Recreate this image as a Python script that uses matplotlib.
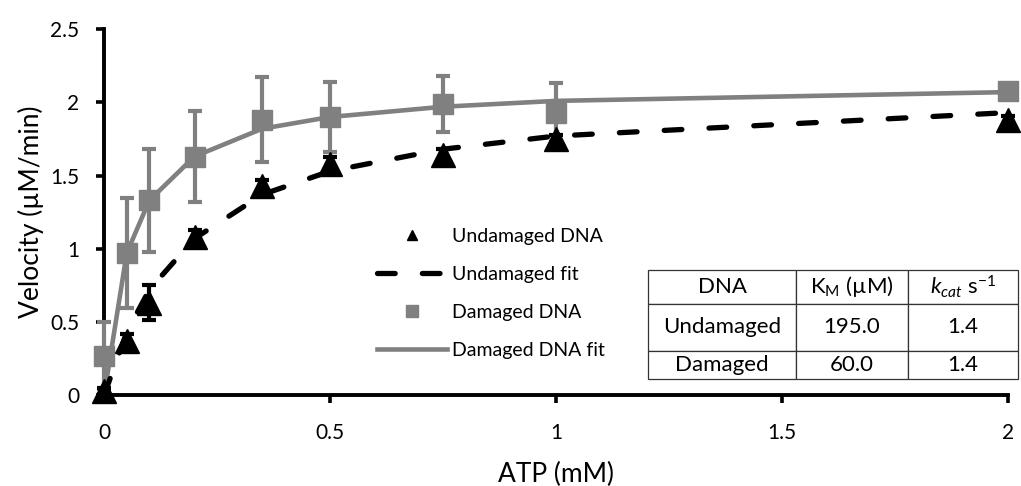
import numpy as np
import matplotlib
matplotlib.use("Agg")
import matplotlib.pyplot as plt
from matplotlib.lines import Line2D

plt.rcParams['font.family'] = ['Lato', 'DejaVu Sans']
plt.rcParams['mathtext.fontset'] = 'custom'
plt.rcParams['mathtext.rm'] = 'Lato'
plt.rcParams['mathtext.it'] = 'Lato:italic'

### data
atp = [0, 0.05, 0.1, 0.2, 0.35, 0.5, 0.75, 1, 2]

undamaged = [0.03, 0.37, 0.63, 1.08, 1.43, 1.58, 1.64, 1.75, 1.88]
undamaged_err = [0.02, 0.05, 0.12, 0.05, 0.04, 0.05, 0.04, 0.03, 0.03]
undamaged_fit = [0.0, 0.43, 0.72, 1.07, 1.37, 1.53, 1.68, 1.77, 1.93]

damaged = [0.27, 0.97, 1.33, 1.63, 1.88, 1.90, 1.99, 1.93, 2.08]
damaged_err = [0.23, 0.375, 0.35, 0.31, 0.29, 0.24, 0.19, 0.2, 0.02]
damaged_fit = [0.0, 0.97, 1.33, 1.63, 1.82, 1.90, 1.97, 2.01, 2.07]

x_ticks = [0, 0.5, 1, 1.5, 2]
x_ticklabels = ['0', '0.5', '1', '1.5', '2']
y_ticks = [0, 0.5, 1, 1.5, 2, 2.5]
y_ticklabels = ['0', '0.5', '1', '1.5', '2', '2.5']

table_header = ['DNA', 'K$_\\mathrm{M}$ (µM)', '$k_{cat}$ s$^{-1}$']
table_rows = [['Undamaged', '195.0', '1.4'],
              ['Damaged', '60.0', '1.4']]

gray = '#808080'
fit_dash = (3.35, 5.15)

fig = plt.figure(figsize=(10.21, 4.86), dpi=100)
ax = fig.add_axes([0.102, 0.187, 0.885, 0.753])

#### fit lines
ax.plot(atp, damaged_fit, '-', color=gray, lw=3.3, zorder=2, clip_on=False)
ax.plot(atp, undamaged_fit, color='black', lw=3.8, dashes=fit_dash,
        dash_capstyle='round', zorder=3, clip_on=False)

#### data with error bars
ax.errorbar(atp, damaged, yerr=damaged_err, fmt='s', color=gray, ms=14,
            elinewidth=3.0, capsize=5, capthick=3.0, zorder=4, clip_on=False)
ax.errorbar(atp, undamaged, yerr=undamaged_err, fmt='^', color='black', ms=17.5,
            elinewidth=3.0, capsize=5, capthick=3.0, zorder=5, clip_on=False)

ax.set_xlim(0, 2)
ax.set_ylim(0, 2.5)
ax.set_xticks(x_ticks)
ax.set_xticklabels(x_ticklabels)
ax.set_yticks(y_ticks)
ax.set_yticklabels(y_ticklabels)
ax.tick_params(labelsize=15, width=2.6, length=6, direction='out')
ax.tick_params(axis='x', pad=14)
ax.tick_params(axis='y', pad=12)

for side in ['top', 'right']:
    ax.spines[side].set_visible(False)
for side in ['left', 'bottom']:
    ax.spines[side].set_linewidth(2.8)
    ax.spines[side].set_zorder(1)

ax.set_xlabel('ATP (mM)', fontsize=19, labelpad=14)
ax.set_ylabel('Velocity (µM/min)', fontsize=19, labelpad=4)

#### legend with proxy handles
handles = [
    Line2D([], [], marker='^', ls='none', color='black', ms=7),
    Line2D([], [], color='black', lw=3.8, dashes=fit_dash,
           dash_capstyle='round'),
    Line2D([], [], marker='s', ls='none', color=gray, ms=8),
    Line2D([], [], color=gray, lw=3.3),
]
labels = ['Undamaged DNA', 'Undamaged fit', 'Damaged DNA', 'Damaged DNA fit']
ax.legend(handles, labels, loc='center left', bbox_to_anchor=(0.302, 0.279),
          frameon=False, fontsize=14, handlelength=3.6, handletextpad=0.25,
          labelspacing=1.08, borderpad=0, borderaxespad=0)

#### kinetics table
tab = ax.table(cellText=table_rows, colLabels=table_header, cellLoc='center',
               bbox=[0.602, 0.044, 0.409, 0.298])
col_w = [148, 112, 110]
row_h = [34, 47, 28]
tab.auto_set_font_size(False)
for (r, c), cell in tab.get_celld().items():
    cell.set_width(col_w[c])
    cell.set_height(row_h[r])
    cell.set_linewidth(0.9)
    cell.set_edgecolor('#333333')
    cell.get_text().set_fontsize(16)
tab.set_clip_on(False)

fig.savefig('out.png', dpi=100)
